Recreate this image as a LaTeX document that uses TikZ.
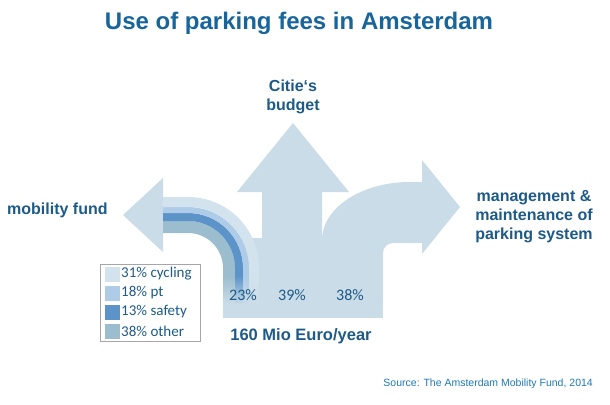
\documentclass[tikz,border=0pt]{standalone}
\usepackage{fontspec}
\setmainfont{Liberation Sans}
\newfontfamily\calfont{Carlito}
\definecolor{arrowc}{HTML}{CADCE7}
\definecolor{cyc}{HTML}{D3E3ED}
\definecolor{ptc}{HTML}{AECBE8}
\definecolor{saf}{HTML}{5C94C9}
\definecolor{oth}{HTML}{9BBDCE}
\definecolor{titlec}{HTML}{17659A}
\definecolor{labc}{HTML}{1D5A88}
\definecolor{srcc}{HTML}{1F78B8}
\tikzset{
  lab/.style={font=\fontsize{16}{19}\selectfont\bfseries, text=labc, align=center, inner sep=0pt},
  pct/.style={font=\calfont\fontsize{16}{19}\selectfont, text=labc, inner sep=0pt},
  legtext/.style={font=\calfont\fontsize{15}{18}\selectfont, text=labc, anchor=west, inner sep=0pt},
  legsq/.style={minimum width=15pt, minimum height=15pt, inner sep=0pt, draw=none},
}
\newcommand{\band}[4]{% r1 r2 color yb
  \fill[#3] (163,268-#2) -- (188,268-#2) arc[start angle=90,end angle=0,radius=#2 pt]
    -- (188+#2,#4) -- (188+#1,#4) -- (188+#1,268)
    arc[start angle=0,end angle=90,radius=#1 pt] -- (163,268-#1) -- cycle;
  \shade[top color=#3, bottom color=arrowc] (188+#1,#4) rectangle (188+#2,#4+28);
}
\begin{document}
\begin{tikzpicture}[x=1pt,y=-1pt]
\useasboundingbox (0,0) rectangle (610,404);
% up arrow
\fill[arrowc] (262,245) -- (262,192) -- (237,192) -- (293,123) -- (349,192) -- (322,192) -- (322,245) -- cycle;
% right arrow
\fill[arrowc] (322,300) -- (322,240) arc[start angle=180,end angle=90,x radius=88pt,y radius=58pt]
  -- (422,182) -- (422,160) -- (460,207) -- (422,254) -- (422,243) -- (393,243)
  arc[start angle=90,end angle=180,radius=10pt] -- (383,300) -- cycle;
% base
\fill[arrowc] (223,238) rectangle (383,318);
% left arrow head
\fill[arrowc] (163,178) -- (123,215) -- (163,252) -- cycle;
% left arrow bands
\band{35}{47}{oth}{276}
\band{47}{55}{saf}{276}
\band{55}{61}{ptc}{276}
\band{61}{71}{cyc}{276}
% title
\node[font=\fontsize{24}{28}\selectfont\bfseries, text=titlec, inner sep=0pt] (title) at (299,23) {Use of parking fees in Amsterdam};
% labels
\node[lab] (budget) at (293,97) {Citie‘s\\budget};
\node[lab, anchor=west] (mob) at (7,210) {mobility fund};
\node[lab] (mgmt) at (534,217) {management \&\\maintenance of\\parking system};
\node[lab, font=\fontsize{16.5}{19}\selectfont\bfseries] (total) at (301,336) {160 Mio Euro/year};
\node[pct] (p23) at (243,295) {23\%};
\node[pct] (p39) at (292,295) {39\%};
\node[pct] (p38) at (350,295) {38\%};
% legend
\draw[draw=gray!70, line width=0.6pt] (100,264) rectangle (200,341);
\node[legsq, fill=cyc] (s1) at (112,274) {};
\node[legsq, fill=ptc] (s2) at (112,293) {};
\node[legsq, fill=saf] (s3) at (112,312) {};
\node[legsq, fill=oth] (s4) at (112,331) {};
\node[legtext] (t1) at (121,274) {31\% cycling};
\node[legtext] (t2) at (121,293) {18\% pt};
\node[legtext] (t3) at (121,312) {13\% safety};
\node[legtext] (t4) at (121,331) {38\% other};
% source
\node[font=\fontsize{10.5}{12}\selectfont, text=srcc, anchor=east, inner sep=0pt] (src) at (593,384) {Source: The Amsterdam Mobility Fund, 2014};
\end{tikzpicture}
\end{document}
